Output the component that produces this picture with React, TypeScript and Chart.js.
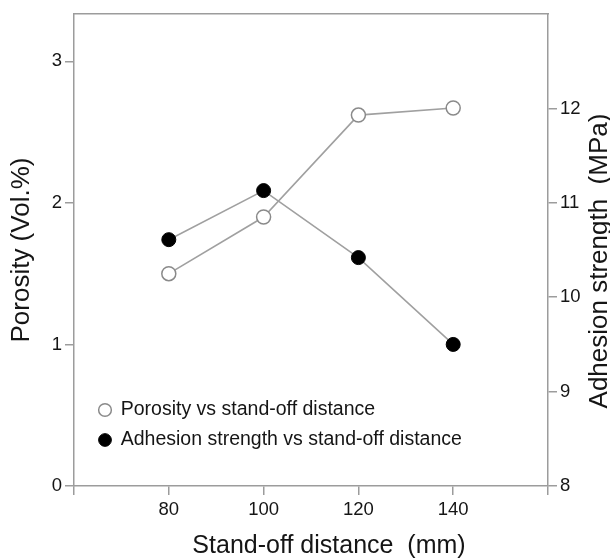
import React, { useEffect, useRef } from 'react';
import { Chart, registerables } from 'chart.js';

Chart.register(...registerables);

// ---- data ----
const standoff = [80, 100, 120, 140];
const porosity = [1.5, 1.9, 2.62, 2.67];
const adhesion = [10.61, 11.13, 10.42, 9.5];
const xTicks = [60, 80, 100, 120, 140, 160];
const xLabeled = [80, 100, 120, 140];
const porosityTicks = [0, 1, 2, 3];
const adhesionTicks = [8, 9, 10, 11, 12];

const FONT = "'Liberation Sans', Arial, Helvetica, sans-serif";
const AXIS = '#9c9c9c';
const LINE = '#a0a0a0';
const TEXT = '#151515';

const customPlugin = {
  id: 'customText',
  afterLayout(chart: any) {
    const ca = chart.chartArea;
    const lg = chart.legend;
    if (lg && ca) {
      lg.left = ca.left + 14.5;
      lg.top = ca.bottom - 96.25;
      lg.right = ca.right - 10;
      lg.bottom = ca.bottom - 4;
    }
  },
  afterDraw(chart: any) {
    const ca = chart.chartArea;
    const ctx = chart.ctx;
    ctx.save();
    ctx.fillStyle = TEXT;
    ctx.textAlign = 'center';
    ctx.textBaseline = 'alphabetic';
    ctx.font = `25px ${FONT}`;
    ctx.fillText('Stand-off distance  (mm)', (ca.left + ca.right) / 2 + 18, ca.bottom + 67);
    ctx.translate(ca.right + 59, (ca.top + ca.bottom) / 2 + 11);
    ctx.rotate(-Math.PI / 2);
    ctx.font = `26px ${FONT}`;
    ctx.fillText('Adhesion strength  (MPa)', 0, 0);
    ctx.restore();
  },
};

export default function App() {
  const ref = useRef<HTMLCanvasElement | null>(null);

  useEffect(() => {
    if (!ref.current) return;
    const tickFont = { size: 18.5, family: FONT };
    const gridOpts = { drawOnChartArea: false, drawTicks: true, tickLength: 9, color: AXIS, lineWidth: 1.5 };
    const borderOpts = { display: true, color: AXIS, width: 1.5 };
    const chart = new Chart(ref.current, {
      type: 'line',
      data: {
        datasets: [
          {
            label: 'Porosity vs stand-off distance',
            data: standoff.map((x, i) => ({ x, y: porosity[i] })),
            xAxisID: 'x',
            yAxisID: 'y',
            borderColor: LINE,
            borderWidth: 1.6,
            pointRadius: 7,
            pointBackgroundColor: '#ffffff',
            pointBorderColor: '#8a8a8a',
            pointBorderWidth: 1.5,
            tension: 0,
          },
          {
            label: 'Adhesion strength vs stand-off distance',
            data: standoff.map((x, i) => ({ x, y: adhesion[i] })),
            xAxisID: 'x',
            yAxisID: 'y2',
            borderColor: LINE,
            borderWidth: 1.6,
            pointRadius: 7,
            pointBackgroundColor: '#000000',
            pointBorderColor: '#000000',
            pointBorderWidth: 1,
            tension: 0,
          },
        ],
      },
      options: {
        responsive: false,
        animation: false,
        events: [],
        layout: { padding: 0 },
        plugins: {
          tooltip: { enabled: false },
          legend: {
            position: 'chartArea',
            align: 'start',
            labels: {
              usePointStyle: true,
              boxWidth: 12,
              boxHeight: 9,
              padding: 10.5,
              color: TEXT,
              font: { size: 19.5, family: FONT },
            },
          },
        },
        scales: {
          x: {
            type: 'linear',
            position: 'bottom',
            min: 60,
            max: 160,
            afterBuildTicks: (s: any) => { s.ticks = xTicks.map((v) => ({ value: v })); },
            afterFit: (s: any) => { s.height = 74; },
            grid: gridOpts,
            border: borderOpts,
            ticks: {
              padding: 4,
              color: TEXT,
              font: tickFont,
              autoSkip: false,
              maxRotation: 0,
              callback: (v: any) => (xLabeled.includes(Number(v)) ? String(v) : ''),
            },
          },
          xTop: {
            type: 'linear',
            position: 'top',
            axis: 'x',
            min: 60,
            max: 160,
            afterFit: (s: any) => { s.height = 12; },
            grid: { display: false },
            ticks: { display: false },
            border: borderOpts,
          },
          y: {
            type: 'linear',
            position: 'left',
            min: 0,
            max: 10 / 3,
            afterBuildTicks: (s: any) => { s.ticks = porosityTicks.map((v) => ({ value: v })); },
            afterFit: (s: any) => { s.width = 74; },
            grid: gridOpts,
            border: borderOpts,
            ticks: { padding: 3, color: TEXT, font: tickFont, callback: (v: any) => String(v) },
            title: {
              display: true,
              text: 'Porosity (Vol.%)',
              color: TEXT,
              font: { size: 26, family: FONT },
              padding: { top: 6.4, bottom: 0 },
            },
          },
          y2: {
            type: 'linear',
            position: 'right',
            min: 8,
            max: 13,
            afterBuildTicks: (s: any) => { s.ticks = adhesionTicks.map((v) => ({ value: v })); },
            afterFit: (s: any) => { s.width = 62; },
            grid: gridOpts,
            border: borderOpts,
            ticks: { padding: 3, color: TEXT, font: tickFont, callback: (v: any) => String(v) },
          },
        },
      } as any,
      plugins: [customPlugin],
    });
    return () => chart.destroy();
  }, []);

  return (
    <div style={{ position: 'absolute', left: 0, top: 0, width: 610, height: 560, background: '#fff' }}>
      <canvas ref={ref} width={610} height={560} style={{ display: 'block' }} />
    </div>
  );
}
